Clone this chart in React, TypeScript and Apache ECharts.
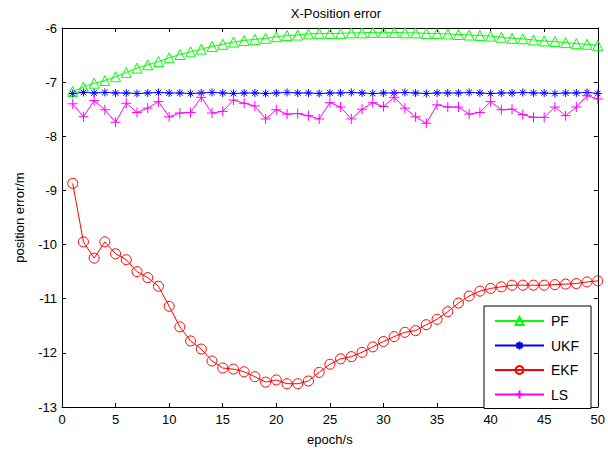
import React, { useEffect, useRef } from "react";
import * as echarts from "echarts";

const epochs = Array.from({ length: 50 }, (_, i) => i + 1);

const pfValues = [
  -7.17, -7.09, -7.02, -6.97, -6.9, -6.82, -6.74, -6.68, -6.62, -6.55,
  -6.49, -6.44, -6.39, -6.34, -6.3, -6.26, -6.23, -6.21, -6.19, -6.16,
  -6.14, -6.13, -6.11, -6.1, -6.1, -6.1, -6.09, -6.09, -6.08, -6.08,
  -6.08, -6.09, -6.09, -6.1, -6.1, -6.11, -6.12, -6.13, -6.14, -6.15,
  -6.17, -6.19, -6.2, -6.22, -6.24, -6.25, -6.27, -6.29, -6.3, -6.32,
];

const ukfValues = [
  -7.21, -7.19, -7.2, -7.19, -7.2, -7.2, -7.21, -7.2, -7.19, -7.2,
  -7.2, -7.21, -7.2, -7.19, -7.2, -7.21, -7.2, -7.2, -7.21, -7.2,
  -7.19, -7.2, -7.2, -7.21, -7.2, -7.2, -7.19, -7.2, -7.21, -7.2,
  -7.2, -7.19, -7.2, -7.21, -7.2, -7.2, -7.2, -7.19, -7.2, -7.21,
  -7.2, -7.2, -7.19, -7.2, -7.2, -7.21, -7.2, -7.2, -7.19, -7.21,
];

const ekfValues = [
  -8.87, -9.95, -10.25, -9.95, -10.17, -10.28, -10.5, -10.61, -10.77, -11.14,
  -11.52, -11.78, -11.93, -12.15, -12.28, -12.3, -12.35, -12.44, -12.54, -12.5,
  -12.57, -12.57, -12.52, -12.36, -12.21, -12.11, -12.07, -11.99, -11.89, -11.79,
  -11.7, -11.62, -11.59, -11.48, -11.38, -11.24, -11.08, -10.95, -10.86, -10.81,
  -10.78, -10.75, -10.75, -10.75, -10.75, -10.74, -10.73, -10.72, -10.69, -10.67,
];

const lsValues = [
  -7.4, -7.64, -7.34, -7.51, -7.74, -7.39, -7.56, -7.48, -7.36, -7.64,
  -7.57, -7.56, -7.28, -7.57, -7.54, -7.33, -7.39, -7.44, -7.68, -7.51,
  -7.59, -7.58, -7.62, -7.68, -7.38, -7.46, -7.68, -7.5, -7.38, -7.45,
  -7.28, -7.48, -7.64, -7.76, -7.42, -7.46, -7.46, -7.59, -7.56, -7.36,
  -7.51, -7.5, -7.6, -7.65, -7.65, -7.46, -7.62, -7.46, -7.25, -7.31,
];

const seriesNames = ["PF", "UKF", "EKF", "LS"];
const seriesColors = ["#00ff00", "#0000ff", "#ff0000", "#ff00ff"];

const xTicks = { min: 0, max: 50, interval: 5 };
const yTicks = { min: -13, max: -6, interval: 1 };

const FONT = "'Liberation Sans', Arial, sans-serif";

const STAR =
  "path://M0,-1L0,1M-1,0L1,0M-0.7,-0.7L0.7,0.7M-0.7,0.7L0.7,-0.7";
const PLUS = "path://M0,-1L0,1M-1,0L1,0";

export default function App() {
  const ref = useRef<HTMLDivElement>(null);

  useEffect(() => {
    if (!ref.current) return;
    const chart = echarts.init(ref.current, null, { renderer: "svg" });
    const toPairs = (vals: number[]) => epochs.map((e, i) => [e, vals[i]]);
    const symbols = ["triangle", STAR, "circle", PLUS];
    const sizes = [10, 8, 10, 10];
    const allValues = [pfValues, ukfValues, ekfValues, lsValues];

    const axisCommon = {
      axisLine: { show: true, onZero: false, lineStyle: { color: "#000", width: 1 } },
      axisTick: { show: true, inside: true, length: 4, lineStyle: { color: "#000" } },
      splitLine: { show: false },
    };

    chart.setOption({
      animation: false,
      backgroundColor: "#fff",
      title: {
        text: "X-Position error",
        left: 331,
        textAlign: "center",
        top: 2,
        textStyle: { fontFamily: FONT, fontSize: 13, fontWeight: "normal", color: "#000" },
      },
      grid: { left: 62, right: 9, top: 28, bottom: 43 },
      legend: {
        orient: "vertical",
        left: 484,
        top: 306,
        padding: [8, 12, 7, 10],
        itemWidth: 49,
        itemHeight: 10,
        itemGap: 10.5,
        borderColor: "#000",
        borderWidth: 1,
        backgroundColor: "#fff",
        textStyle: { fontFamily: FONT, fontSize: 14, color: "#000", padding: [0, 0, 0, 2] },
        data: seriesNames,
      },
      xAxis: [
        {
          type: "value",
          ...xTicks,
          ...axisCommon,
          name: "epoch/s",
          nameLocation: "middle",
          nameGap: 26,
          nameTextStyle: { fontFamily: FONT, fontSize: 13, color: "#000" },
          axisLabel: { fontFamily: FONT, fontSize: 13, color: "#000", margin: 6 },
        },
        {
          type: "value",
          position: "top",
          ...xTicks,
          ...axisCommon,
          axisLabel: { show: false },
        },
      ],
      yAxis: [
        {
          type: "value",
          ...yTicks,
          ...axisCommon,
          name: "position error/m",
          nameLocation: "middle",
          nameGap: 36,
          nameTextStyle: { fontFamily: FONT, fontSize: 13, color: "#000" },
          axisLabel: { fontFamily: FONT, fontSize: 13, color: "#000", margin: 5 },
        },
        {
          type: "value",
          position: "right",
          ...yTicks,
          ...axisCommon,
          axisLabel: { show: false },
        },
      ],
      series: seriesNames.map((name, k) => ({
        name,
        type: "line",
        xAxisIndex: 0,
        yAxisIndex: 0,
        data: toPairs(allValues[k]),
        symbol: symbols[k],
        symbolSize: sizes[k],
        showAllSymbol: true,
        lineStyle: { color: seriesColors[k], width: 1 },
        itemStyle: {
          color: "rgba(0,0,0,0)",
          borderColor: seriesColors[k],
          borderWidth: 1,
        },
        emphasis: { disabled: true },
      })),
    });
    return () => chart.dispose();
  }, []);

  return (
    <div
      ref={ref}
      style={{ position: "absolute", left: 0, top: 0, width: 608, height: 451 }}
    />
  );
}
